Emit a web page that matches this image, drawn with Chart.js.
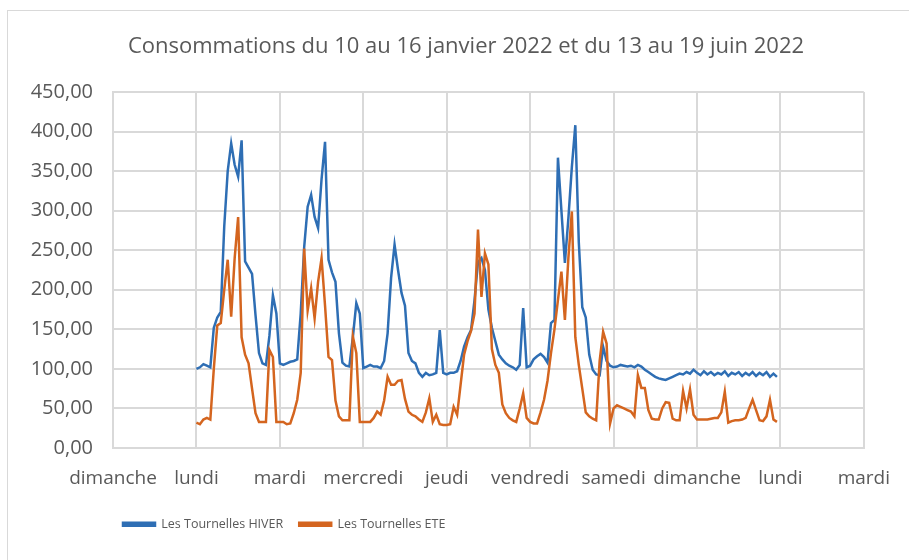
<!DOCTYPE html>
<html>
<head>
<meta charset="utf-8">
<script src="https://cdn.jsdelivr.net/npm/chart.js@4"></script>
<style>
  body { margin: 0; background: #fff; }
  #wrap { position: relative; width: 909px; height: 560px; overflow: hidden; }
  #frame { position: absolute; left: 7px; top: 10px; width: 1000px; height: 1000px; border: 1px solid #d9d9d9; }
  canvas { position: absolute; left: 0; top: 0; }
</style>
</head>
<body>
<div id="wrap">
  <div id="frame"></div>
  <canvas id="chart" width="909" height="560"></canvas>
</div>
<script>
// day names under the vertical gridlines (0 = dimanche ... 9 = mardi)
const dayLabels = ['dimanche', 'lundi', 'mardi', 'mercredi', 'jeudi', 'vendredi', 'samedi', 'dimanche', 'lundi', 'mardi'];

// hourly values, starting lundi 0h (10 janvier 2022)
const hiver = [
  100, 102, 106, 104, 102, 152, 165, 172, 280, 350, 385, 358, 343, 389, 236, 228, 220, 168, 120, 107, 105, 142, 193, 170,
  107, 105, 107, 109, 110, 112, 170, 254, 305, 320, 292, 278, 340, 387, 238, 222, 210, 145, 108, 104, 103, 140, 183, 170,
  101, 103, 105, 103, 103, 101, 110, 145, 215, 257, 225, 196, 180, 120, 110, 107, 95, 90, 95, 92, 93, 95, 149, 95,
  93, 95, 95, 97, 110, 128, 140, 149, 187, 235, 240, 225, 175, 152, 135, 118, 112, 107, 104, 102, 99, 105, 177, 102,
  104, 112, 116, 119, 115, 108, 158, 162, 367, 300, 234, 290, 355, 408, 260, 178, 165, 118, 99, 93, 92, 128, 110, 104,
  102, 103, 105, 104, 103, 104, 102, 105, 103, 99, 96, 93, 90, 88, 87, 86, 88, 90, 92, 94, 93, 96, 94, 99,
  95, 92, 97, 93, 96, 92, 95, 93, 97, 91, 95, 93, 96, 91, 95, 92, 96, 91, 95, 92, 96, 90, 94, 90
];

// hourly values, starting lundi 0h (13 juin 2022)
const ete = [
  32, 30, 36, 38, 36, 100, 155, 158, 200, 238, 166, 240, 292, 140, 118, 107, 75, 44, 33, 33, 33, 124, 115, 33,
  33, 33, 30, 31, 44, 61, 95, 252, 174, 202, 164, 210, 240, 180, 115, 111, 60, 40, 35, 35, 35, 141, 120, 33,
  33, 33, 33, 38, 46, 42, 60, 90, 80, 80, 85, 86, 62, 46, 42, 40, 36, 33, 45, 63, 33, 42, 30, 29,
  29, 30, 52, 42, 80, 118, 135, 148, 170, 276, 191, 246, 232, 125, 105, 95, 55, 44, 38, 35, 33, 50, 69, 38,
  33, 31, 31, 45, 61, 85, 120, 150, 187, 223, 162, 240, 299, 140, 105, 75, 45, 40, 37, 35, 110, 147, 132, 31,
  50, 54, 52, 50, 48, 46, 40, 92, 76, 76, 48, 37, 36, 36, 50, 58, 57, 37, 35, 35, 72, 50, 74, 42,
  36, 36, 36, 36, 37, 38, 38, 45, 71, 32, 34, 35, 35, 36, 38, 50, 61, 48, 35, 34, 40, 61, 36, 33
];

const seriesNames = ['Les Tournelles HIVER', 'Les Tournelles ETE'];
const firstDay = 1; // data starts on lundi

const toPoints = (values) => values.map((v, i) => ({ x: firstDay + i / 24, y: v }));

const txt = '#595959';
const grid = '#d9d9d9';
const font = "'Open Sans', sans-serif";

// title a bit to the right, legend under the first days
const boxShift = {
  id: 'boxShift',
  afterLayout(chart) {
    chart.titleBlock.left += 31;
    chart.titleBlock.right += 31;
    chart.legend.left += 107;
  },
};

new Chart(document.getElementById('chart'), {
  type: 'line',
  data: {
    datasets: [
      {
        label: seriesNames[0],
        data: toPoints(hiver),
        borderColor: '#2E6EB4',
        backgroundColor: '#2E6EB4',
        borderWidth: 2.5,
        pointRadius: 0,
        tension: 0,
        order: 1,
      },
      {
        label: seriesNames[1],
        data: toPoints(ete),
        borderColor: '#D4651F',
        backgroundColor: '#D4651F',
        borderWidth: 2.5,
        pointRadius: 0,
        tension: 0,
        order: 0,
      },
    ],
  },
  options: {
    responsive: false,
    animation: false,
    layout: { padding: { left: 0, right: 39, top: 0, bottom: 19.5 } },
    plugins: {
      title: {
        display: true,
        text: 'Consommations du 10 au 16 janvier 2022 et du 13 au 19 juin 2022',
        color: txt,
        font: { family: font, size: 22, weight: 'normal' },
        padding: { top: 34, bottom: 31.6 },
      },
      legend: {
        position: 'bottom',
        align: 'start',
        labels: {
          color: txt,
          font: { family: font, size: 12.5 },
          boxWidth: 32,
          boxHeight: 3,
          padding: 16,
          sort: (a, b) => a.datasetIndex - b.datasetIndex,
        },
      },
      tooltip: { enabled: false },
    },
    scales: {
      x: {
        type: 'linear',
        min: 0,
        max: 9,
        afterFit: (scale) => { scale.height = 54; },
        afterBuildTicks: (scale) => {
          scale.ticks = dayLabels.map((_, i) => ({ value: i }));
        },
        ticks: {
          autoSkip: false,
          maxRotation: 0,
          padding: 19,
          color: txt,
          font: { family: font, size: 19 },
          callback: (value) => dayLabels[value],
        },
        grid: { color: grid, lineWidth: 2, drawTicks: false },
        border: { color: grid, width: 2 },
      },
      y: {
        min: 0,
        max: 450,
        afterFit: (scale) => { scale.width = 113; },
        ticks: {
          stepSize: 50,
          padding: 20,
          color: txt,
          font: { family: font, size: 20 },
          callback: (value) => value.toFixed(2).replace('.', ','),
        },
        grid: { color: grid, lineWidth: 2, drawTicks: false },
        border: { color: grid, width: 2 },
      },
    },
  },
  plugins: [boxShift],
});
</script>
</body>
</html>
